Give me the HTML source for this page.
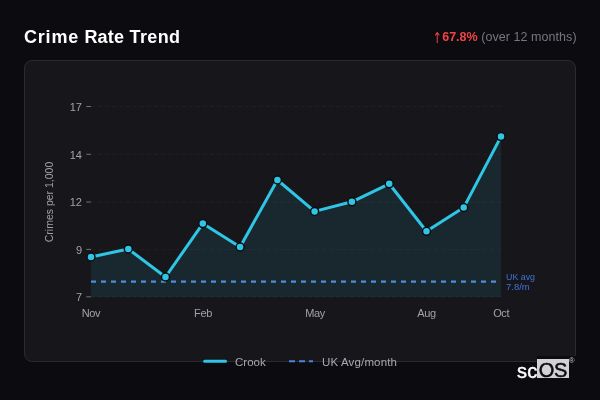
<!DOCTYPE html>
<html><head><meta charset="utf-8"><title>Crime Rate Trend</title>
<style>
html,body{margin:0;padding:0;}
body{width:600px;height:400px;background:#0c0b10;overflow:hidden;position:relative;font-family:"Liberation Sans",sans-serif;}
.title{position:absolute;left:24px;top:26px;font-size:18px;font-weight:bold;color:#fff;line-height:22px;letter-spacing:0.36px;white-space:nowrap;}
.stat{position:absolute;right:23.4px;top:29px;font-size:12.5px;color:#76767e;line-height:16px;white-space:nowrap;}
.stat b{color:#ef4444;}
.stat .ar{color:#ef4444;font-family:"DejaVu Sans",sans-serif;font-size:15px;display:inline-block;width:9.4px;height:10px;position:relative;}
.stat .ar i{position:absolute;left:-1.6px;top:-0.9px;font-style:normal;transform:scaleX(0.75);transform-origin:50% 50%;line-height:16px;}
.stat .g{letter-spacing:0.06px;}
.card{position:absolute;left:24px;top:60px;width:550px;height:300px;border:1px solid #2a2a30;border-radius:8px;background:#17171b;}
svg{position:absolute;left:0;top:0;}
.tk{font-family:"Liberation Sans",sans-serif;font-size:11px;fill:#a1a1a8;}
.lg{font-family:"Liberation Sans",sans-serif;font-size:11.5px;fill:#a8a8ae;}
.uk{font-family:"Liberation Sans",sans-serif;font-size:9.5px;fill:#3f72dc;}
.cover{position:absolute;left:537px;top:356px;width:44px;height:25px;background:#0c0b10;}
.logo{position:absolute;left:517px;top:357px;height:24px;font-size:20px;color:#fff;line-height:24px;white-space:nowrap;}
.logo .sc{position:absolute;left:0;top:2px;-webkit-text-stroke:0.45px #fff;letter-spacing:0.2px;}
.logo .os{position:absolute;left:20.4px;top:2.1px;width:31.4px;height:18.6px;background:#d2d2d6;color:#0c0b10;-webkit-text-stroke:0.5px #0c0b10;}
.logo .os span{position:absolute;left:1.4px;top:-0.8px;letter-spacing:-0.3px;}
.logo .r{position:absolute;left:52px;top:-8.2px;font-size:7.5px;color:#c8c8cc;}
</style></head><body>
<div class="title"><span style="letter-spacing:0.8px">Crime</span> <span style="letter-spacing:0.2px">Rate</span> Trend</div>
<div class="stat"><span class="ar"><i>↑</i></span><b>67.8%</b> <span class="g">(over 12 months)</span></div>
<div class="card"></div>
<svg width="600" height="400" viewBox="0 0 600 400">
<line x1="91" x2="501" y1="106.5" y2="106.5" stroke="#ffffff" stroke-opacity="0.04" stroke-width="1" stroke-dasharray="4 3"/><line x1="86.3" x2="91" y1="106.5" y2="106.5" stroke="#707077" stroke-width="1"/><text x="82" y="110.7" text-anchor="end" class="tk">17</text>
<line x1="91" x2="501" y1="154.3" y2="154.3" stroke="#ffffff" stroke-opacity="0.04" stroke-width="1" stroke-dasharray="4 3"/><line x1="86.3" x2="91" y1="154.3" y2="154.3" stroke="#707077" stroke-width="1"/><text x="82" y="158.5" text-anchor="end" class="tk">14</text>
<line x1="91" x2="501" y1="202" y2="202" stroke="#ffffff" stroke-opacity="0.04" stroke-width="1" stroke-dasharray="4 3"/><line x1="86.3" x2="91" y1="202" y2="202" stroke="#707077" stroke-width="1"/><text x="82" y="206.2" text-anchor="end" class="tk">12</text>
<line x1="91" x2="501" y1="249.4" y2="249.4" stroke="#ffffff" stroke-opacity="0.04" stroke-width="1" stroke-dasharray="4 3"/><line x1="86.3" x2="91" y1="249.4" y2="249.4" stroke="#707077" stroke-width="1"/><text x="82" y="253.6" text-anchor="end" class="tk">9</text>
<line x1="91" x2="501" y1="296.8" y2="296.8" stroke="#ffffff" stroke-opacity="0.04" stroke-width="1" stroke-dasharray="4 3"/><line x1="86.3" x2="91" y1="296.8" y2="296.8" stroke="#707077" stroke-width="1"/><text x="82" y="301.0" text-anchor="end" class="tk">7</text>
<polygon points="91,297 91.0,257 128.3,249 165.5,277 202.8,223.6 240.1,247 277.4,180 314.6,211.4 351.9,201.8 389.2,183.8 426.5,231.3 463.7,207.6 501.0,136.6 501,297" fill="#2fc6e6" fill-opacity="0.10"/>
<line x1="91" x2="501" y1="281.7" y2="281.7" stroke="#4b8fdc" stroke-width="2.2" stroke-dasharray="5 5"/>
<polyline points="91.0,257 128.3,249 165.5,277 202.8,223.6 240.1,247 277.4,180 314.6,211.4 351.9,201.8 389.2,183.8 426.5,231.3 463.7,207.6 501.0,136.6" fill="none" stroke="#2fc6e6" stroke-width="3" stroke-linejoin="round" stroke-linecap="round"/>
<circle cx="91.0" cy="257" r="4" fill="#2fc6e6" stroke="#0c0c10" stroke-width="1.5"/>
<circle cx="128.3" cy="249" r="4" fill="#2fc6e6" stroke="#0c0c10" stroke-width="1.5"/>
<circle cx="165.5" cy="277" r="4" fill="#2fc6e6" stroke="#0c0c10" stroke-width="1.5"/>
<circle cx="202.8" cy="223.6" r="4" fill="#2fc6e6" stroke="#0c0c10" stroke-width="1.5"/>
<circle cx="240.1" cy="247" r="4" fill="#2fc6e6" stroke="#0c0c10" stroke-width="1.5"/>
<circle cx="277.4" cy="180" r="4" fill="#2fc6e6" stroke="#0c0c10" stroke-width="1.5"/>
<circle cx="314.6" cy="211.4" r="4" fill="#2fc6e6" stroke="#0c0c10" stroke-width="1.5"/>
<circle cx="351.9" cy="201.8" r="4" fill="#2fc6e6" stroke="#0c0c10" stroke-width="1.5"/>
<circle cx="389.2" cy="183.8" r="4" fill="#2fc6e6" stroke="#0c0c10" stroke-width="1.5"/>
<circle cx="426.5" cy="231.3" r="4" fill="#2fc6e6" stroke="#0c0c10" stroke-width="1.5"/>
<circle cx="463.7" cy="207.6" r="4" fill="#2fc6e6" stroke="#0c0c10" stroke-width="1.5"/>
<circle cx="501.0" cy="136.6" r="4" fill="#2fc6e6" stroke="#0c0c10" stroke-width="1.5"/>
<text x="91" y="316.7" text-anchor="middle" class="tk" style="letter-spacing:-0.35px">Nov</text>
<text x="203" y="316.7" text-anchor="middle" class="tk" style="letter-spacing:-0.35px">Feb</text>
<text x="315" y="316.7" text-anchor="middle" class="tk" style="letter-spacing:-0.35px">May</text>
<text x="426.6" y="316.7" text-anchor="middle" class="tk" style="letter-spacing:-0.35px">Aug</text>
<text x="501.2" y="316.7" text-anchor="middle" class="tk" style="letter-spacing:-0.35px">Oct</text>
<text x="506" y="279.6" class="uk" textLength="29" lengthAdjust="spacingAndGlyphs">UK avg</text>
<text x="506" y="290.4" class="uk">7.8/m</text>
<text transform="translate(53,202) rotate(-90)" text-anchor="middle" class="tk" style="font-size:10.5px">Crimes per 1,000</text>
<line x1="204.7" x2="225.5" y1="361.2" y2="361.2" stroke="#2fc6e6" stroke-width="3" stroke-linecap="round"/>
<text x="235" y="366" class="lg">Crook</text>
<line x1="289" x2="313" y1="361.2" y2="361.2" stroke="#4b84d8" stroke-width="2" stroke-dasharray="6 4"/>
<text x="322" y="366" class="lg" style="letter-spacing:0.15px">UK Avg/month</text>
</svg>
<div class="cover"></div>
<div class="logo"><span class="sc">sc</span><span class="os"><span>OS</span></span><span class="r">®</span></div>
</body></html>
